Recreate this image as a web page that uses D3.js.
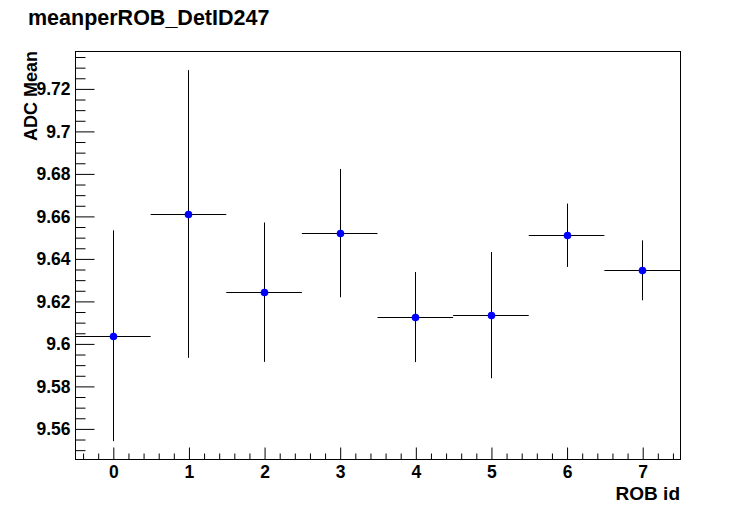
<!DOCTYPE html>
<html>
<head>
<meta charset="utf-8">
<script src="https://cdn.jsdelivr.net/npm/d3@7"></script>
<style>
  body { margin: 0; background: #fff; }
  text { font-family: "Liberation Sans", Arial, Helvetica, sans-serif; font-weight: bold; }
</style>
</head>
<body>
<svg id="chart" width="756" height="511"></svg>
<script>
// ---- data ----
const robIds   = [0, 1, 2, 3, 4, 5, 6, 7];
const adcMean  = [9.6036, 9.6609, 9.6241, 9.6519, 9.6124, 9.6133, 9.6509, 9.6344];
const adcErr   = [0.0496, 0.0677, 0.0328, 0.0302, 0.0212, 0.0297, 0.0149, 0.0141];
const binHalfWidth = 0.5;
const yTickValues = [9.56, 9.58, 9.6, 9.62, 9.64, 9.66, 9.68, 9.7, 9.72];
const yTickLabels = ["9.56", "9.58", "9.6", "9.62", "9.64", "9.66", "9.68", "9.7", "9.72"];
const xTickValues = [0, 1, 2, 3, 4, 5, 6, 7];
const xTickLabels = ["0", "1", "2", "3", "4", "5", "6", "7"];
const titleText = "meanperROB_DetID247";
const xTitle = "ROB id";
const yTitle = "ADC Mean";

// ---- layout ----
const svg = d3.select("#chart");
const L = 75, R = 680, T = 51, B = 459;
const x = d3.scaleLinear().domain([-0.5, 7.5]).range([L, R]);
const y = d3.scaleLinear().domain([9.5456, 9.7376]).range([B, T]);

// frame
svg.append("rect").attr("x", L + 0.5).attr("y", T + 0.5)
  .attr("width", R - L).attr("height", B - T)
  .attr("fill", "none").attr("stroke", "#000").attr("stroke-width", 1);

// y axis minor ticks
const yMinor = d3.range(9.550, 9.7376, 0.005).map(v => +v.toFixed(3))
  .filter(v => !yTickValues.some(t => Math.abs(t - v) < 1e-6));
const yMinorAxis = d3.axisLeft(y).tickValues(yMinor).tickSize(-10).tickFormat("");
const gym = svg.append("g").attr("transform", `translate(${L + 0.5},0.5)`).call(yMinorAxis);
gym.select(".domain").remove();

// y axis major
const yAxis = d3.axisLeft(y).tickValues(yTickValues).tickSize(-19).tickPadding(5)
  .tickFormat((d, i) => yTickLabels[i]);
const gy = svg.append("g").attr("transform", `translate(${L + 0.5},0.5)`).call(yAxis);
gy.select(".domain").remove();
gy.selectAll("text").attr("font-size", 17.5).attr("font-family", null).attr("fill", "#000");

// x minor ticks
const xMinor = d3.range(-0.4, 7.5, 0.2).map(v => +v.toFixed(1))
  .filter(v => Math.abs(v - Math.round(v)) > 1e-6);
const xMinorAxis = d3.axisBottom(x).tickValues(xMinor).tickSize(-6).tickFormat("");
const gxm = svg.append("g").attr("transform", `translate(0.5,${B + 0.5})`).call(xMinorAxis);
gxm.select(".domain").remove();

// x major
const xAxis = d3.axisBottom(x).tickValues(xTickValues).tickSize(-12).tickPadding(6)
  .tickFormat((d, i) => xTickLabels[i]);
const gx = svg.append("g").attr("transform", `translate(0.5,${B + 0.5})`).call(xAxis);
gx.select(".domain").remove();
gx.selectAll("text").attr("font-size", 17.5).attr("font-family", null).attr("fill", "#000");

svg.selectAll(".tick line").attr("stroke", "#000");

// data: error bars and markers
const pts = robIds.map((id, i) => ({ id, v: adcMean[i], e: adcErr[i] }));
const gp = svg.append("g");
gp.selectAll("line.h").data(pts).enter().append("line").attr("class", "h")
  .attr("x1", d => x(d.id - binHalfWidth)).attr("x2", d => x(d.id + binHalfWidth))
  .attr("y1", d => Math.round(y(d.v)) + 0.5).attr("y2", d => Math.round(y(d.v)) + 0.5)
  .attr("stroke", "#000").attr("stroke-width", 1);
gp.selectAll("line.v").data(pts).enter().append("line").attr("class", "v")
  .attr("x1", d => Math.round(x(d.id)) + 0.5).attr("x2", d => Math.round(x(d.id)) + 0.5)
  .attr("y1", d => y(d.v - d.e)).attr("y2", d => y(d.v + d.e))
  .attr("stroke", "#000").attr("stroke-width", 1);
gp.selectAll("circle").data(pts).enter().append("circle")
  .attr("cx", d => Math.round(x(d.id)) + 0.5).attr("cy", d => Math.round(y(d.v)) + 0.5)
  .attr("r", 3.8).attr("fill", "#0000ff");

// titles
svg.append("text").attr("x", 28).attr("y", 25)
  .attr("font-size", 21.5).attr("fill", "#000").text(titleText);
svg.append("text").attr("x", R).attr("y", 500).attr("text-anchor", "end")
  .attr("font-size", 19).attr("fill", "#000").text(xTitle);
svg.append("text").attr("transform", `translate(37,${T}) rotate(-90)`)
  .attr("text-anchor", "end").attr("font-size", 18).attr("fill", "#000").text(yTitle);
</script>
</body>
</html>
